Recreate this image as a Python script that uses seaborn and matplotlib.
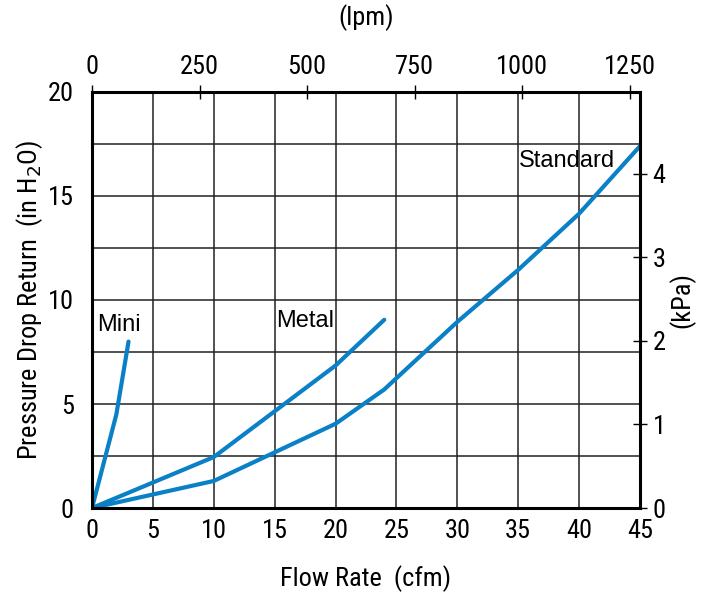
import numpy as np
import pandas as pd
import matplotlib
matplotlib.use('Agg')
import matplotlib.pyplot as plt
import seaborn as sns

# Curve data (cfm vs in H2O)
mini_cfm = [0, 2, 3]
mini_inh2o = [0, 4.5, 8.0]

metal_cfm = [0, 10, 20, 24]
metal_inh2o = [0, 2.45, 6.85, 9.05]

standard_cfm = [0, 10, 20, 24, 30, 35, 40, 45]
standard_inh2o = [0, 1.3, 4.05, 5.7, 8.95, 11.45, 14.15, 17.4]

curve_names = ['Mini', 'Metal', 'Standard']

x_ticks = [0, 5, 10, 15, 20, 25, 30, 35, 40, 45]
y_ticks = [0, 5, 10, 15, 20]
lpm_ticks = [0, 250, 500, 750, 1000, 1250]
kpa_ticks = [0, 1, 2, 3, 4]

CFM_TO_LPM = 28.3168
INH2O_TO_KPA = 0.249089

sns.set_style('white')
narrow = ['Roboto Condensed', 'DejaVu Sans Condensed', 'Liberation Sans Narrow', 'DejaVu Sans']
plt.rcParams['font.family'] = narrow
for k in ['text.color', 'axes.labelcolor', 'xtick.color', 'ytick.color']:
    plt.rcParams[k] = 'black'

df = pd.concat([
    pd.DataFrame({'cfm': mini_cfm, 'inh2o': mini_inh2o, 'curve': 'Mini'}),
    pd.DataFrame({'cfm': metal_cfm, 'inh2o': metal_inh2o, 'curve': 'Metal'}),
    pd.DataFrame({'cfm': standard_cfm, 'inh2o': standard_inh2o, 'curve': 'Standard'}),
])

blue = '#0a80c6'

fig = plt.figure(figsize=(7.1, 5.93), dpi=100)
ax = fig.add_axes([92 / 710, 85 / 593, 548 / 710, 416 / 593])

sns.lineplot(data=df, x='cfm', y='inh2o', units='curve', estimator=None,
             sort=False, color=blue, linewidth=3.0, ax=ax, legend=False)

ax.set_xlim(0, 45)
ax.set_ylim(0, 20)

# grid every 5 cfm and 2.5 in H2O
for gx in np.arange(5, 45, 5):
    ax.axvline(gx, color='#222222', lw=1.1, zorder=0)
for gy in np.arange(2.5, 20, 2.5):
    ax.axhline(gy, color='#222222', lw=1.1, zorder=0)

for s in ax.spines.values():
    s.set_linewidth(2.2)
    s.set_color('black')

ax.set_xticks(x_ticks)
ax.set_yticks(y_ticks)
ax.tick_params(axis='both', labelsize=19, direction='in', length=0, pad=8)
ax.tick_params(axis='y', length=5, direction='out', width=1)

ax.set_xlabel('Flow Rate  (cfm)', fontsize=19, labelpad=16)
ax.set_ylabel('Pressure Drop Return  (in H$_2$O)', fontsize=19, labelpad=2)

top = ax.secondary_xaxis('top', functions=(lambda v: v * CFM_TO_LPM,
                                           lambda v: v / CFM_TO_LPM))
top.set_xticks(lpm_ticks)
top.tick_params(labelsize=19, direction='inout', length=10, width=1, pad=4)
top.set_xlabel('(lpm)', fontsize=19, labelpad=22)

right = ax.secondary_yaxis('right', functions=(lambda v: v * INH2O_TO_KPA,
                                               lambda v: v / INH2O_TO_KPA))
right.set_yticks(kpa_ticks)
right.tick_params(labelsize=19, direction='inout', length=10, width=1, pad=4)
right.set_ylabel('(kPa)', fontsize=19, labelpad=2)

label_font = ['Liberation Sans', 'DejaVu Sans']
ax.text(0.4, 8.8, curve_names[0], fontsize=17, family=label_font, va='center', ha='left')
ax.text(17.5, 9.0, curve_names[1], fontsize=17, family=label_font, va='center', ha='center')
ax.text(39.0, 16.7, curve_names[2], fontsize=17, family=label_font, va='center', ha='center')

fig.savefig('out.png', dpi=100)
